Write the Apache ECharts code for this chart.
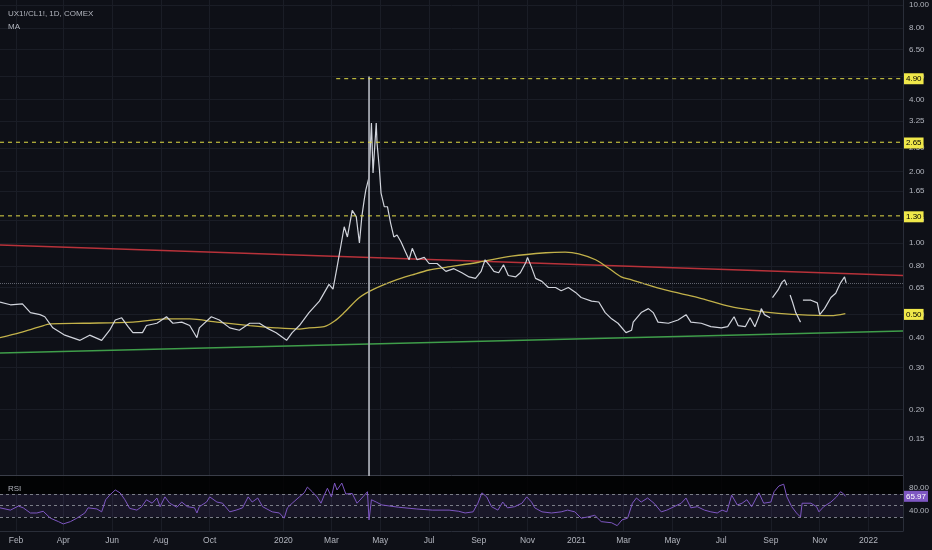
<!DOCTYPE html>
<html><head><meta charset="utf-8">
<script src="https://cdn.jsdelivr.net/npm/echarts@6/dist/echarts.min.js"></script>
<style>html,body{margin:0;padding:0;background:#0e1017}#c{width:932px;height:550px}</style>
</head><body><div id="c"></div>
<script>
// ---------- data ----------
const priceDates = ['2019-01-12','2019-01-25','2019-02-09','2019-02-19','2019-03-03','2019-03-09','2019-03-19','2019-04-03','2019-04-22','2019-05-04','2019-05-19','2019-05-29','2019-06-05','2019-06-13','2019-06-21','2019-06-27','2019-07-09','2019-07-14','2019-07-27','2019-08-08','2019-08-16','2019-08-27','2019-09-06','2019-09-15','2019-09-18','2019-10-03','2019-10-13','2019-10-26','2019-11-07','2019-11-20','2019-12-02','2019-12-11','2019-12-23','2020-01-05','2020-01-12','2020-01-21','2020-02-02','2020-02-15','2020-02-27','2020-03-03','2020-03-08','2020-03-17','2020-03-21','2020-03-27','2020-04-01','2020-04-05','2020-04-08','2020-04-11','2020-04-13','2020-04-17','2020-04-20','2020-04-22','2020-04-26','2020-04-27','2020-04-30','2020-05-02','2020-05-06','2020-05-10','2020-05-14','2020-05-18','2020-05-22','2020-05-27','2020-06-02','2020-06-06','2020-06-10','2020-06-16','2020-06-25','2020-07-01','2020-07-11','2020-07-22','2020-08-01','2020-08-11','2020-08-20','2020-08-28','2020-09-04','2020-09-09','2020-09-14','2020-09-20','2020-09-26','2020-10-02','2020-10-08','2020-10-17','2020-10-23','2020-10-30','2020-11-01','2020-11-06','2020-11-11','2020-11-19','2020-11-27','2020-12-06','2020-12-13','2020-12-22','2020-12-31','2021-01-07','2021-01-20','2021-01-29','2021-02-06','2021-02-14','2021-02-22','2021-03-04','2021-03-11','2021-03-13','2021-03-23','2021-04-01','2021-04-07','2021-04-13','2021-04-26','2021-05-08','2021-05-18','2021-05-24','2021-06-06','2021-06-18','2021-07-01','2021-07-09','2021-07-17','2021-07-22','2021-07-31','2021-08-06','2021-08-12','2021-08-18','2021-08-20','2021-08-24','2021-08-31','2021-09-01','2021-09-03','2021-09-10','2021-09-15','2021-09-18','2021-09-21','2021-09-23','2021-09-25','2021-09-28','2021-10-02','2021-10-08','2021-10-09','2021-10-11','2021-10-21','2021-10-29','2021-11-01','2021-11-07','2021-11-15','2021-11-21','2021-11-27','2021-12-02','2021-12-04'];
const priceValues = [0.565,0.55,0.555,0.51,0.50,0.49,0.44,0.41,0.39,0.41,0.39,0.43,0.475,0.485,0.445,0.42,0.42,0.45,0.46,0.49,0.46,0.465,0.45,0.40,0.44,0.49,0.475,0.44,0.43,0.46,0.46,0.44,0.42,0.39,0.42,0.45,0.51,0.57,0.67,0.64,0.79,1.17,1.06,1.37,1.29,1.00,1.29,1.52,1.67,1.89,3.19,1.97,3.19,2.63,2.03,1.62,1.42,1.42,1.21,1.06,1.08,1.01,0.91,0.85,0.95,0.85,0.87,0.82,0.82,0.76,0.78,0.75,0.72,0.71,0.76,0.85,0.81,0.76,0.75,0.81,0.73,0.72,0.75,0.83,0.87,0.79,0.71,0.69,0.65,0.65,0.63,0.65,0.62,0.59,0.57,0.565,0.51,0.48,0.46,0.42,0.43,0.465,0.51,0.53,0.51,0.465,0.46,0.475,0.50,0.465,0.46,0.445,0.44,0.445,0.49,0.45,0.445,0.485,0.445,0.50,0.53,0.50,0.485,null,0.59,0.635,0.685,0.70,0.665,null,0.605,0.565,0.51,0.465,null,0.575,0.575,0.56,0.50,0.53,0.59,0.615,0.68,0.72,0.68];

const maDates = ['2019-01-12','2019-02-06','2019-03-03','2019-03-16','2019-04-26','2019-06-27','2019-08-08','2019-09-06','2019-10-10','2019-11-20','2019-12-23','2020-01-21','2020-02-02','2020-02-21','2020-03-05','2020-03-17','2020-04-05','2020-04-23','2020-05-21','2020-06-10','2020-07-01','2020-07-22','2020-09-01','2020-10-12','2020-11-24','2020-12-18','2021-01-04','2021-01-25','2021-02-10','2021-02-26','2021-03-11','2021-04-22','2021-06-02','2021-07-13','2021-08-12','2021-09-01','2021-10-05','2021-11-15','2021-12-03'];
const maValues = [0.40,0.42,0.445,0.457,0.46,0.465,0.48,0.48,0.465,0.45,0.44,0.435,0.44,0.445,0.47,0.51,0.59,0.64,0.70,0.735,0.77,0.79,0.83,0.88,0.91,0.915,0.90,0.85,0.785,0.72,0.70,0.635,0.59,0.54,0.52,0.51,0.50,0.495,0.505];

const rsiDates = ['2019-01-12','2019-01-25','2019-02-04','2019-02-10','2019-02-19','2019-02-27','2019-03-07','2019-03-16','2019-03-26','2019-04-01','2019-04-10','2019-04-18','2019-04-28','2019-05-02','2019-05-13','2019-05-19','2019-05-24','2019-05-29','2019-06-05','2019-06-11','2019-06-17','2019-06-23','2019-07-02','2019-07-08','2019-07-14','2019-07-21','2019-07-27','2019-07-31','2019-08-06','2019-08-12','2019-08-21','2019-08-27','2019-09-03','2019-09-12','2019-09-15','2019-09-18','2019-09-27','2019-10-01','2019-10-10','2019-10-17','2019-10-26','2019-11-03','2019-11-11','2019-11-18','2019-11-23','2019-11-30','2019-12-06','2019-12-18','2019-12-27','2020-01-02','2020-01-06','2020-01-12','2020-01-21','2020-01-27','2020-01-31','2020-02-06','2020-02-12','2020-02-17','2020-02-21','2020-02-25','2020-03-01','2020-03-05','2020-03-08','2020-03-14','2020-03-19','2020-03-27','2020-04-02','2020-04-08','2020-04-15','2020-04-17','2020-04-20','2020-04-26','2020-05-03','2020-05-24','2020-06-15','2020-07-05','2020-07-26','2020-08-07','2020-08-15','2020-08-25','2020-08-31','2020-09-05','2020-09-11','2020-09-17','2020-09-25','2020-10-01','2020-10-07','2020-10-16','2020-10-25','2020-10-31','2020-11-06','2020-11-10','2020-11-19','2020-12-01','2020-12-13','2020-12-21','2020-12-30','2021-01-07','2021-01-15','2021-01-24','2021-02-01','2021-02-14','2021-02-21','2021-02-27','2021-03-06','2021-03-12','2021-03-17','2021-03-23','2021-03-31','2021-04-08','2021-04-17','2021-04-24','2021-05-03','2021-05-12','2021-05-18','2021-05-24','2021-06-01','2021-06-10','2021-06-18','2021-06-26','2021-07-02','2021-07-08','2021-07-14','2021-07-21','2021-07-27','2021-08-02','2021-08-08','2021-08-17','2021-08-23','2021-09-01','2021-09-05','2021-09-11','2021-09-17','2021-09-21','2021-09-27','2021-10-03','2021-10-08','2021-10-10','2021-10-21','2021-10-28','2021-10-31','2021-11-06','2021-11-15','2021-11-22','2021-11-27','2021-12-01','2021-12-03'];
const rsiValues = [46,42,49,46,37,37,40,28,22,18,22,28,37,46,44,39,60,68,77,72,60,45,42,48,60,54,63,48,65,54,47,56,48,46,37,48,56,65,56,54,39,42,46,65,56,63,48,39,37,28,46,54,65,72,82,74,65,54,68,80,65,89,77,89,70,71,54,63,74,25,60,56,51,47,44,42,42,40,37,39,54,72,65,48,42,56,46,48,54,65,56,46,39,37,39,42,39,28,30,33,22,20,15,25,28,54,63,56,63,54,39,42,48,54,63,46,48,42,39,37,42,39,68,51,54,60,48,72,54,56,74,84,87,65,48,37,30,54,54,48,39,48,56,65,74,70,66];

const redDates = ['2019-01-12','2022-02-13'];
const redValues = [0.98, 0.73];
const greenDates = ['2019-01-12','2022-02-13'];
const greenValues = [0.345, 0.427];

const levelValues = [4.90, 2.65, 1.30];
const levelStarts = ['2020-03-07','2019-01-12','2019-01-12'];
const lastPrice = 0.68;
const maLast = 0.50;
const rsiLast = 65.97;
const rsiLevels = [70, 50, 30];

const spikeDate = '2020-04-17';
const spikeValues = [5.0, 0.1];

const priceTicks = [10, 8, 6.5, 5, 4, 3.25, 2.5, 2, 1.65, 1.25, 1, 0.8, 0.65, 0.5, 0.4, 0.3, 0.2, 0.15];
const rsiTicks = [40, 80];
const timeTicks = ['2019-02-01','2019-04-01','2019-06-01','2019-08-01','2019-10-01','2020-01-01','2020-03-01','2020-05-01','2020-07-01','2020-09-01','2020-11-01','2021-01-01','2021-03-01','2021-05-01','2021-07-01','2021-09-01','2021-11-01','2022-01-01'];
const monthNames = ['Jan','Feb','Mar','Apr','May','Jun','Jul','Aug','Sep','Oct','Nov','Dec'];

// ---------- helpers ----------
function ts(s){const p=s.split('-');return Date.UTC(+p[0],+p[1]-1,+p[2]);}
const L = v => v==null ? null : Math.log10(v);
const xMin = ts('2019-01-12'), xMax = ts('2022-02-13');
const yMin = L(0.106), yMax = L(10.49);
const txt = '#b2b5be';
const gridCol = '#1a1d26';
const font = 'Liberation Sans, Arial, sans-serif';
const timeFmt = v => { const d = new Date(v); return d.getUTCMonth()===0 ? String(d.getUTCFullYear()) : monthNames[d.getUTCMonth()]; };
const tickTs = timeTicks.map(ts);

const yellowLabel = (t) => ({show:true, position:'end', formatter:t, color:'#000', backgroundColor:'#f0e84a', padding:[2,2,1,2], fontSize:8, fontFamily:font, distance:1});

const series = [];
series.push({
  name:'price', type:'line', xAxisIndex:0, yAxisIndex:0, showSymbol:false, connectNulls:false,
  data: priceDates.map((d,i)=>[ts(d), L(priceValues[i])]),
  lineStyle:{color:'#d1d4dc', width:1.2}, z:5,
  markLine:{silent:true, symbol:['none','none'], label:{show:false},
    lineStyle:{color:'#5f626d', type:'dotted', width:1},
    data:[{yAxis:L(lastPrice)}]}
});
series.push({
  name:'MA', type:'line', xAxisIndex:0, yAxisIndex:0, showSymbol:false, smooth:0.3,
  data: maDates.map((d,i)=>[ts(d), L(maValues[i])]),
  lineStyle:{color:'#c2b14a', width:1.3}, z:4,
  markLine:{silent:true, symbol:['none','none'],
    lineStyle:{color:'transparent', width:1},
    label: yellowLabel(maLast.toFixed(2)),
    data:[{yAxis:L(maLast)}]}
});
series.push({type:'line', xAxisIndex:0, yAxisIndex:0, showSymbol:false,
  data: redDates.map((d,i)=>[ts(d), L(redValues[i])]), lineStyle:{color:'#b8323a', width:1.5}, z:3});
series.push({type:'line', xAxisIndex:0, yAxisIndex:0, showSymbol:false,
  data: greenDates.map((d,i)=>[ts(d), L(greenValues[i])]), lineStyle:{color:'#3f9e4a', width:1.5}, z:3});
levelValues.forEach((v,i)=>{
  series.push({type:'line', xAxisIndex:0, yAxisIndex:0, showSymbol:false, z:6,
    data:[[ts(levelStarts[i]), L(v)],[xMax, L(v)]],
    lineStyle:{color:'#e2dc45', width:1, type:[4,4]},
    markLine:{silent:true, symbol:['none','none'], lineStyle:{color:'transparent'},
      label: yellowLabel(v.toFixed(2)), data:[{yAxis:L(v)}]}
  });
});
series.push({type:'line', xAxisIndex:0, yAxisIndex:0, showSymbol:false, z:5,
  data: spikeValues.map(v=>[ts(spikeDate), L(v)]), lineStyle:{color:'#a6a9b1', width:1.8}});

series.push({
  name:'RSI', type:'line', xAxisIndex:1, yAxisIndex:1, showSymbol:false,
  data: rsiDates.map((d,i)=>[ts(d), rsiValues[i]]),
  lineStyle:{color:'#7e57c2', width:1}, z:5,
  markArea:{silent:true, data:[
    [{yAxis:30, itemStyle:{color:'rgba(126,87,194,0.10)'}},{yAxis:70}],
    [{yAxis:70, itemStyle:{color:'rgba(0,0,0,0.8)'}},{yAxis:101.3}]
  ]},
  markLine:{silent:true, symbol:['none','none'],
    data: rsiLevels.map(v=>({yAxis:v, lineStyle:{color:'#7b7e88', type:[3,3], width:1}, label:{show:false}}))
      .concat([{yAxis:rsiLast, lineStyle:{color:'transparent'},
        label:{show:true, position:'end', formatter:rsiLast.toFixed(2), color:'#fff', backgroundColor:'#7e57c2', padding:[2,2,1,2], fontSize:8, fontFamily:font, distance:1}}])
  }
});

const option = {
  backgroundColor:'#0e1017',
  animation:false,
  title:[
    {text:'UX1!/CL1!, 1D, COMEX', left:3, top:5, textStyle:{color:txt, fontSize:8, fontWeight:'normal', fontFamily:font}},
    {text:'MA', left:3, top:18, textStyle:{color:txt, fontSize:8, fontWeight:'normal', fontFamily:font}},
    {text:'RSI', left:3, top:480, textStyle:{color:txt, fontSize:8, fontWeight:'normal', fontFamily:font}}
  ],
  grid:[
    {left:0, right:26, top:0, height:475},
    {left:0, right:26, top:476, height:55}
  ],
  xAxis:[
    {gridIndex:0, type:'value', min:xMin, max:xMax, position:'bottom',
      axisLine:{show:true, onZero:false, lineStyle:{color:'#3a3e49'}}, axisLabel:{show:false},
      axisTick:{show:false, customValues:tickTs},
      splitLine:{show:true, lineStyle:{color:gridCol}}},
    {gridIndex:1, type:'value', min:xMin, max:xMax, position:'bottom',
      axisLine:{show:true, onZero:false, lineStyle:{color:'#2a2e39'}},
      axisTick:{show:false, customValues:tickTs},
      axisLabel:{customValues:tickTs, formatter:timeFmt, color:txt, fontSize:8.5, fontFamily:font, margin:5},
      splitLine:{show:true, lineStyle:{color:gridCol}}}
  ],
  yAxis:[
    {gridIndex:0, type:'value', position:'right', min:yMin, max:yMax,
      axisLine:{show:true, onZero:false, lineStyle:{color:'#2a2e39'}},
      axisTick:{show:false, customValues:priceTicks.map(L)},
      axisLabel:{customValues:priceTicks.map(L), formatter:v=>Math.pow(10,v).toFixed(2), color:txt, fontSize:8, fontFamily:font, margin:6},
      splitLine:{show:true, lineStyle:{color:gridCol}}},
    {gridIndex:1, type:'value', position:'right', min:5.7, max:101.3,
      axisLine:{show:true, onZero:false, lineStyle:{color:'#2a2e39'}},
      axisTick:{show:false, customValues:rsiTicks},
      axisLabel:{customValues:rsiTicks, formatter:v=>v.toFixed(2), color:txt, fontSize:8, fontFamily:font, margin:6},
      splitLine:{show:false}}
  ],
  series: series
};
const chart = echarts.init(document.getElementById('c'));
chart.setOption(option);
</script></body></html>
